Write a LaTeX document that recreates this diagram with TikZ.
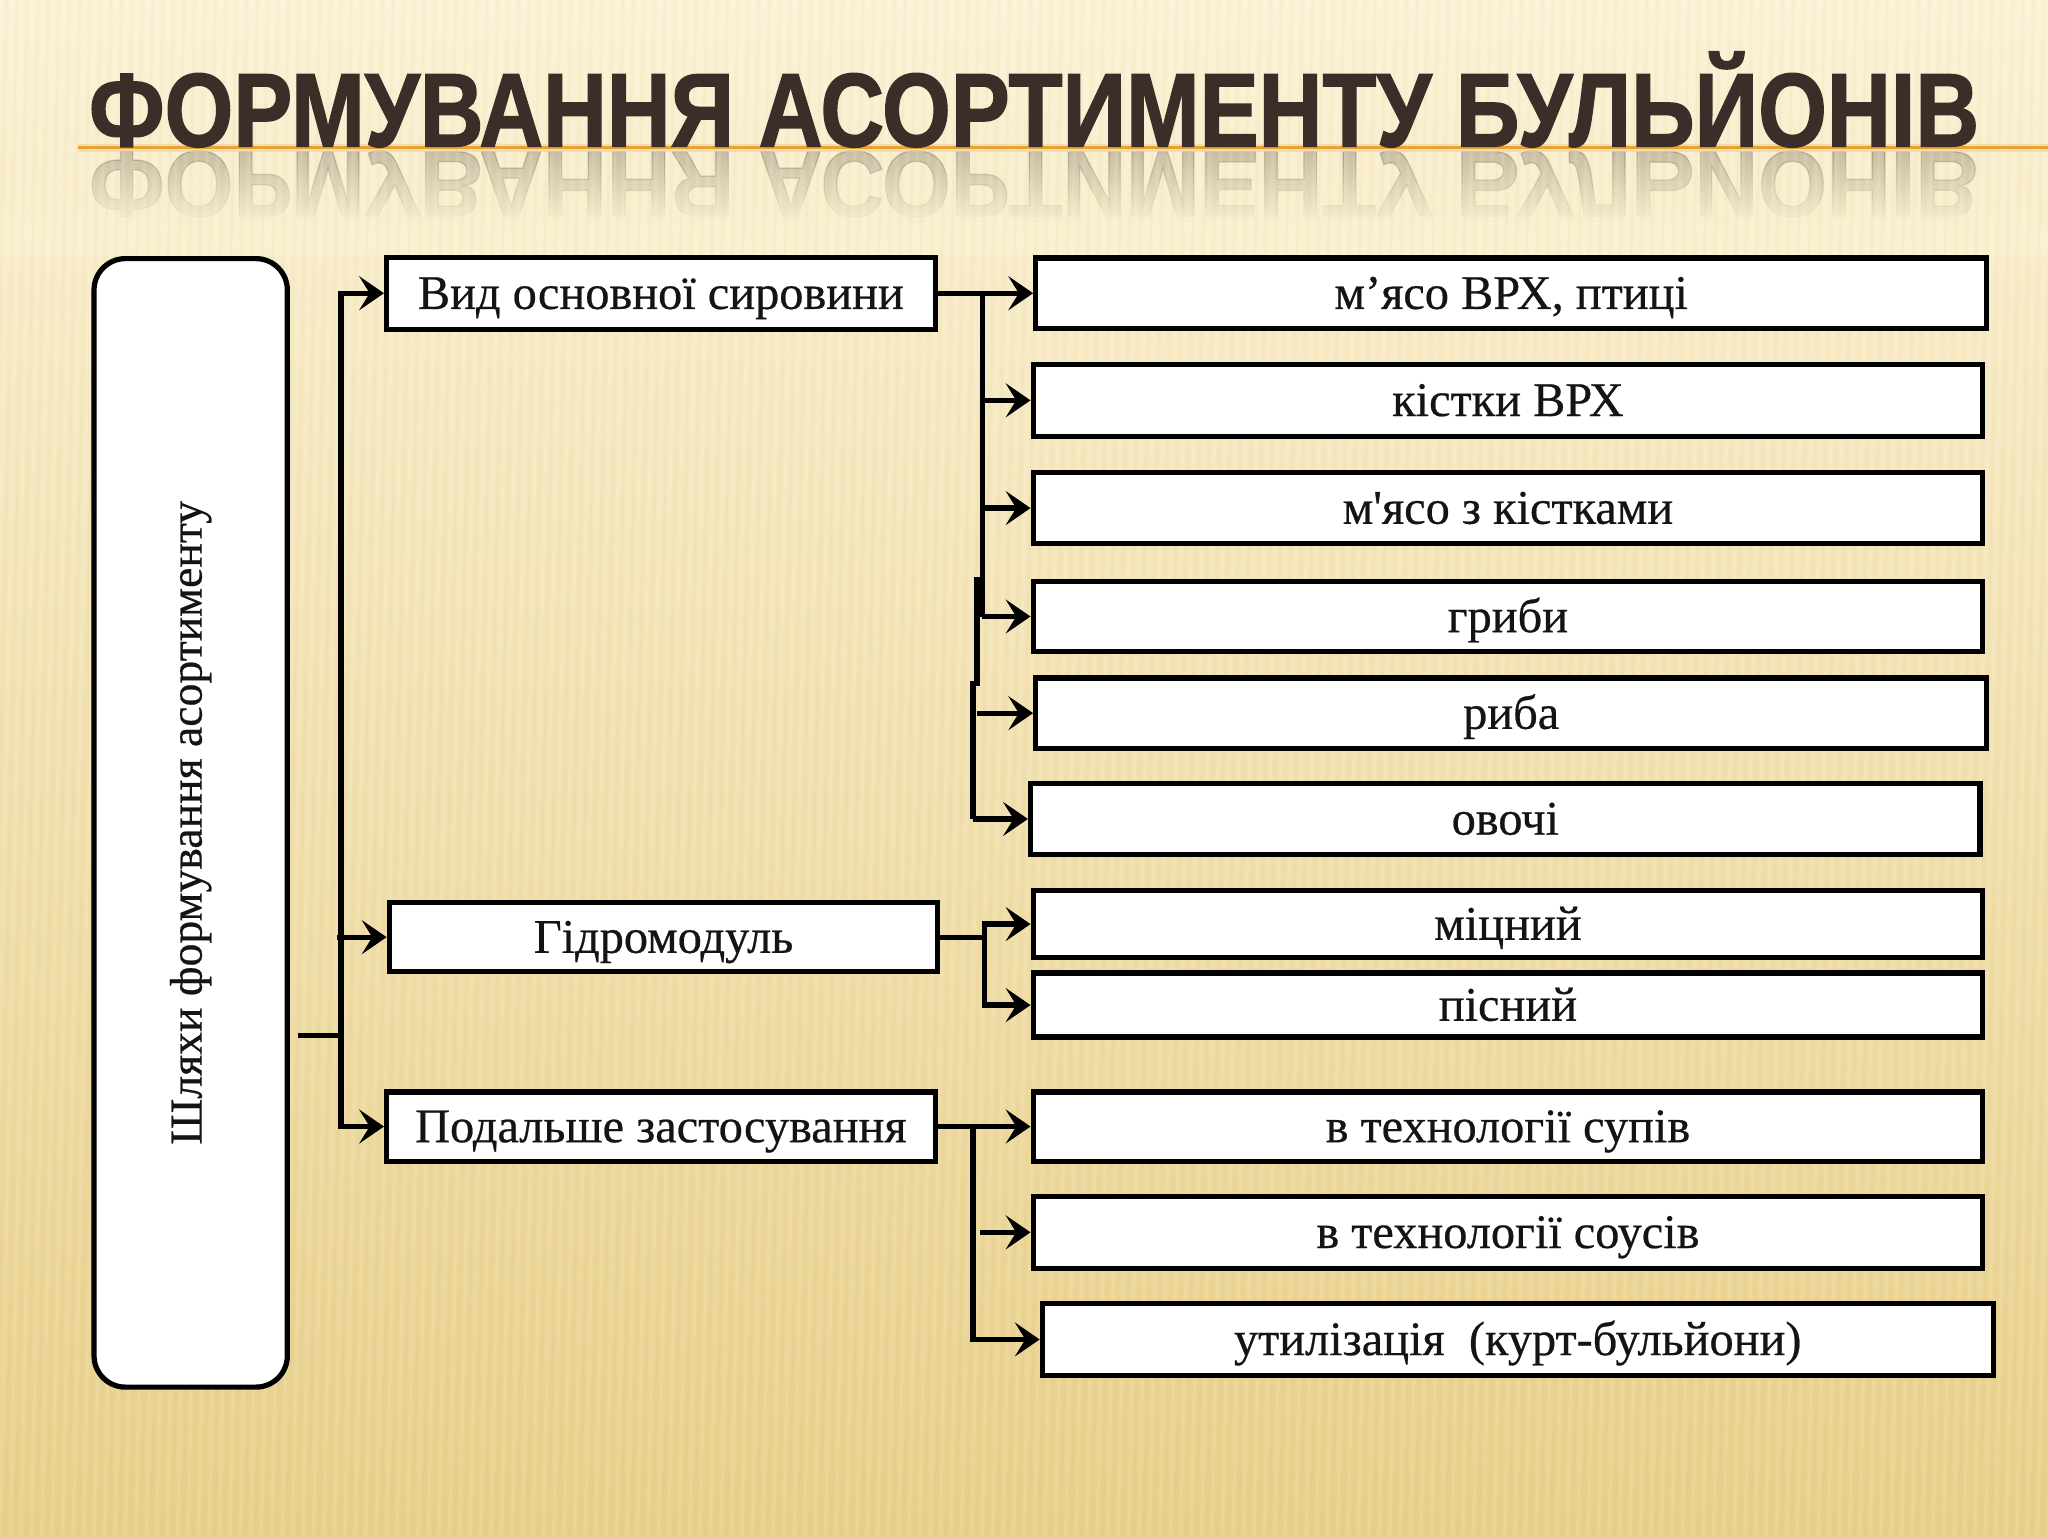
\documentclass[tikz,border=0pt]{standalone}
\usepackage{fontspec}
\setmainfont{Liberation Serif}[Ligatures=TeXOff, FakeBold=0.5]
\newfontfamily\titlefont{Liberation Sans}[FakeBold=1.5]
\usetikzlibrary{arrows.meta,fadings}
\definecolor{bgtop}{HTML}{FBF2D6}
\definecolor{bgmid}{HTML}{F7E7BA}
\definecolor{bgbot}{HTML}{E8D08A}
\definecolor{titlec}{HTML}{3A2F28}
\definecolor{orangel}{HTML}{E8A235}
\definecolor{stripec}{HTML}{C9A75A}
\tikzfading[name=fadedown, top color=transparent!100, bottom color=transparent!0]
\tikzset{
  box/.style={draw=black, line width=4pt, fill=white, inner sep=0pt,
    text height=30pt, text depth=6pt,
    font=\fontsize{37pt}{42pt}\selectfont, text=black!92},
  conn/.style={line width=4pt, draw=black},
  arr/.style={conn, -{Stealth[length=19pt,width=26pt,inset=8pt]}},
  ttl/.style={anchor=base west, inner sep=0pt, text=titlec},
}
\newcommand{\titletext}{\resizebox{1447pt}{\height}{\titlefont\bfseries\fontsize{80pt}{80pt}\selectfont ФОРМУВАННЯ АСОРТИМЕНТУ БУЛЬЙОНІВ}}
\begin{document}
\begin{tikzpicture}[x=1pt,y=-1pt]
\useasboundingbox (0,0) rectangle (1568,1176);
% background
\shade[top color=bgtop, middle color=bgmid, bottom color=bgbot] (0,0) rectangle (1568,1176);
% title reflection
\node[ttl, opacity=0.24, yscale=-0.9, transform shape] (refl) at (68,116) {\titletext};
\fill[color=bgtop!80!bgmid, path fading=fadedown] (0,117) rectangle (1568,172);
\fill[color=bgtop!78!bgmid] (0,171) rectangle (1568,195);
% stripes
\foreach \i in {-10,...,200} {
  \draw[white, opacity=0.10, line width=2.5pt] (\i*8+25,0) -- (\i*8,1176);
  \draw[stripec, opacity=0.05, line width=2pt] (\i*8+29,0) -- (\i*8+4,1176);
}
% orange line
\draw[orangel!50, opacity=0.6, line width=6pt] (60,113) -- (1568,113);
\draw[orangel, line width=2.5pt] (60,113) -- (1568,113);
% title
\node[ttl] (title) at (68,112) {\titletext};

% left box
\node[draw=black, line width=4pt, fill=white, rounded corners=24pt,
      minimum width=148pt, minimum height=864pt, inner sep=0pt] (L) at (146,630) {};
\node[rotate=90, inner sep=0pt, font=\fontsize{35pt}{40pt}\selectfont, text=black!92] (Ltxt) at (L.center) {Шляхи формування асортименту};

% middle boxes
\node[box, minimum width=420pt, minimum height=55pt] (m1) at (506,224.5) {Вид основної сировини};
\node[box, minimum width=420pt, minimum height=53pt] (m2) at (508,717.5) {Гідромодуль};
\node[box, minimum width=420pt, minimum height=53pt] (m3) at (506,862.5) {Подальше застосування};

% right boxes
\node[box, minimum width=728pt, minimum height=54pt] (r1) at (1157,224.5) {м’ясо ВРХ, птиці};
\node[box, minimum width=727pt, minimum height=55pt] (r2) at (1154.5,306.5) {кістки ВРХ};
\node[box, minimum width=727pt, minimum height=54pt] (r3) at (1154.5,389) {м'ясо з кістками};
\node[box, minimum width=727pt, minimum height=54pt] (r4) at (1154.5,472) {гриби};
\node[box, minimum width=728pt, minimum height=54pt] (r5) at (1157,546) {риба};
\node[box, minimum width=727pt, minimum height=54pt] (r6) at (1152.5,627) {овочі};
\node[box, minimum width=727pt, minimum height=51pt] (r7) at (1154.5,707.5) {міцний};
\node[box, minimum width=727pt, minimum height=49pt] (r8) at (1154.5,769.5) {пісний};
\node[box, minimum width=727pt, minimum height=53pt] (r9) at (1154.5,862.5) {в технології супів};
\node[box, minimum width=727pt, minimum height=55pt] (r10) at (1154.5,943.5) {в технології соусів};
\node[box, minimum width=728pt, minimum height=55pt] (r11) at (1162,1025.5) {утилізація\ \ (курт-бульйони)};

% left connectors
\coordinate (lstub) at (228,793);
\coordinate (lbus) at (261,793);
\draw[conn] (lstub) -- (lbus);
\draw[arr] (lbus) |- (m1.west);
\draw[arr] (lbus) |- (m3.west);
\draw[arr] ([xshift=-3pt]lbus |- m2.west) -- (m2.west);

% group 1
\coordinate (b1) at (752,224.5);
\coordinate (b1a) at (748,442);
\coordinate (b1b) at (745,523);
\draw[arr] (m1.east) -- (r1.west);
\draw[conn] (b1) -- (b1 |- r4.west);
\draw[conn] (b1a) -- (b1a |- b1b) -- (b1b) -- (b1b |- r6.west);
\draw[arr] (b1 |- r2.west) -- (r2.west);
\draw[arr] (b1 |- r3.west) -- (r3.west);
\draw[arr] (b1 |- r4.west) -- (r4.west);
\draw[arr] (b1a |- r5.west) -- (r5.west);
\draw[arr] (b1b |- r6.west) -- (r6.west);

% group 2
\coordinate (b2) at (754,717.5);
\draw[conn] (m2.east) -- (b2);
\draw[arr] (b2) |- (r7.west);
\draw[arr] (b2) |- (r8.west);

% group 3
\coordinate (b3) at (745,862.5);
\draw[arr] (m3.east) -- (r9.west);
\draw[arr] (b3) |- (r11.west);
\draw[arr] ([xshift=5pt]b3 |- r10.west) -- (r10.west);
\end{tikzpicture}
\end{document}
